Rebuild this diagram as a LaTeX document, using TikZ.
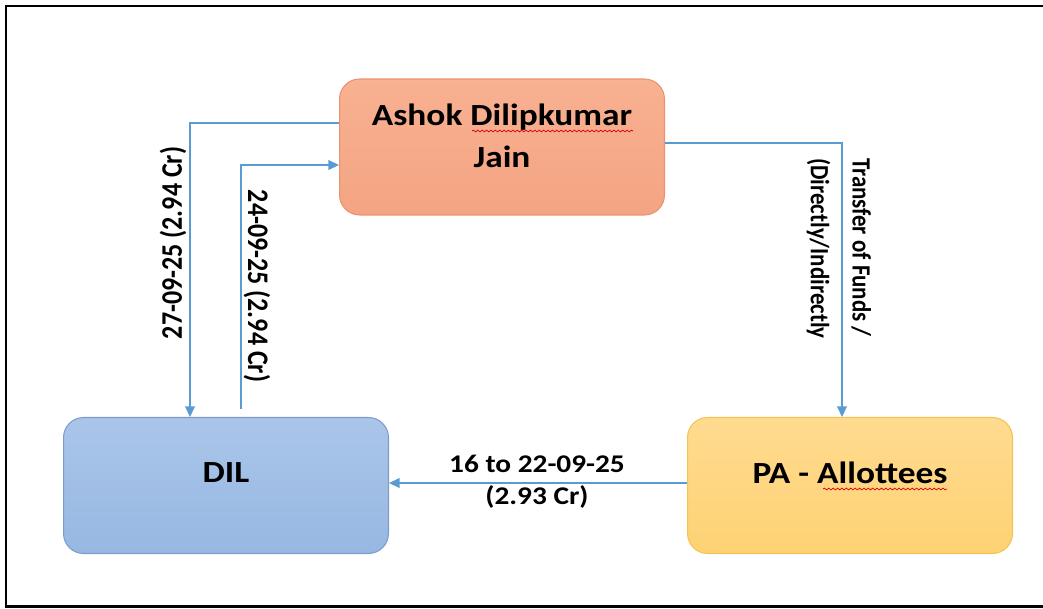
\documentclass[tikz,border=0pt]{standalone}
\usepackage{fontspec}
\setmainfont{Carlito}
\newfontfamily\widefont{Carlito}[FakeStretch=1.15]
\newfontfamily\narrowfont{Carlito}[FakeStretch=0.87]
\usetikzlibrary{arrows.meta,decorations.pathmorphing}

\definecolor{flowblue}{HTML}{5B9BD5}
\definecolor{ashoktop}{HTML}{F8B192}
\definecolor{ashokbot}{HTML}{F4A482}
\definecolor{ashokline}{HTML}{E8936D}
\definecolor{diltop}{HTML}{AAC5E9}
\definecolor{dilbot}{HTML}{97B8E2}
\definecolor{dilline}{HTML}{7C9DCB}
\definecolor{patop}{HTML}{FFDB90}
\definecolor{pabot}{HTML}{FED274}
\definecolor{paline}{HTML}{F3C454}

\begin{document}
\begin{tikzpicture}[x=0.02cm, y=-0.02cm,
    box/.style={rounded corners=0.4cm, minimum width=6.5cm, minimum height=2.72cm, line width=0.6pt},
    boxtext/.style={font=\widefont\bfseries\fontsize{17.5}{23.8}\selectfont, align=center},
    flow/.style={draw=flowblue, line width=0.85pt, -{Triangle[length=6pt,width=5.5pt]}},
    flowlabel/.style={font=\widefont\bfseries\fontsize{14.5}{18}\selectfont, align=center},
    sidelabel/.style={font=\narrowfont\bfseries\fontsize{17}{20}\selectfont},
    squiggle/.style={draw=red!85!black, line width=0.4pt, decorate,
        decoration={snake, amplitude=0.5pt, segment length=2.5pt}}]

    % frame
    \useasboundingbox (0,0) rectangle (1043,608);
    \draw[line width=1.7pt] (1043,6) -- (6,6) -- (6,606) -- (1043,606);

    % boxes
    \node[box, draw=ashokline, top color=ashoktop, bottom color=ashokbot] (ashok) at (502,147) {};
    \node[box, draw=dilline, top color=diltop, bottom color=dilbot] (dil) at (226,485.5) {};
    \node[box, draw=paline, top color=patop, bottom color=pabot] (pa) at (850,485.5) {};

    \node[boxtext] (ashoktxt) at (502,136) {Ashok Dilipkumar\\Jain};
    \node[boxtext] (diltxt) at (226,473) {DIL};
    \node[boxtext] (patxt) at (850,473) {PA - Allottees};

    % spell-check underlines
    \draw[squiggle] (472,131) -- (633,131);
    \draw[squiggle] (823,489) -- (947,489);

    % flows
    \draw[flow] (ashok.west |- 0,123) -| (dil.north -| 190,0);
    \coordinate (dilout) at (241,409);
    \draw[flow] (dilout) |- (ashok.west |- 0,165);
    \draw[flow] (ashok.east |- 0,143) -| (pa.north -| 842,0);
    \draw[flow] (pa.west |- 0,483) -- (dil.east |- 0,483);

    % labels
    \node[sidelabel, rotate=90] (lbl27) at (173,243) {27-09-25 (2.94 Cr)};
    \node[sidelabel, rotate=-90] (lbl24) at (257,286) {24-09-25 (2.94 Cr)};
    \node[font=\narrowfont\bfseries\fontsize{15}{23.8}\selectfont,
        rotate=-90, align=left, anchor=west] (lbltr) at (839,152) {Transfer of Funds /\\(Directly/Indirectly};
    \node[flowlabel] (lbl16) at (537,482) {16 to 22-09-25\\(2.93 Cr)};

\end{tikzpicture}
\end{document}
